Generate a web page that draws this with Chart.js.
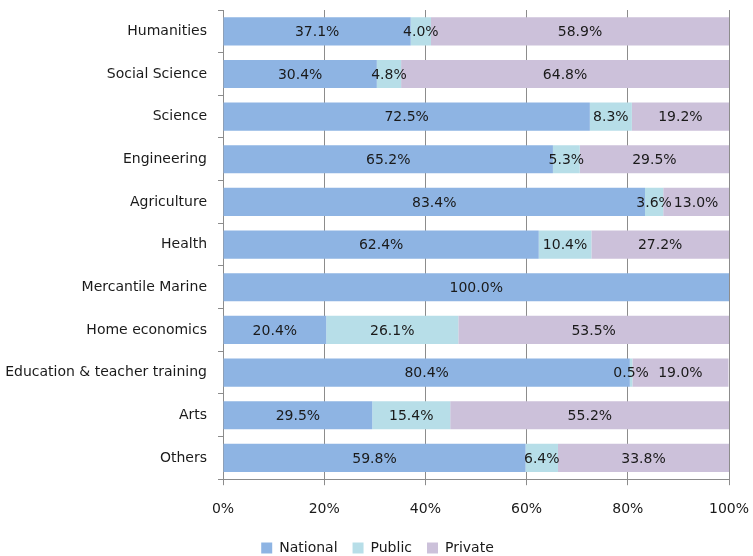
<!DOCTYPE html>
<html>
<head>
<meta charset="utf-8">
<script src="https://cdn.jsdelivr.net/npm/chart.js@4"></script>
<style>
  html, body { margin: 0; padding: 0; background: #fff; }
  #wrap { width: 753px; height: 556px; }
</style>
</head>
<body>
<div id="wrap"><canvas id="fieldChart" width="753" height="556"></canvas></div>
<script>
// Share of students by type of institution, per field
const categories = ['Humanities', 'Social Science', 'Science', 'Engineering', 'Agriculture', 'Health',
  'Mercantile Marine', 'Home economics', 'Education & teacher training', 'Arts', 'Others'];
const nationalVals = [37.1, 30.4, 72.5, 65.2, 83.4, 62.4, 100.0, 20.4, 80.4, 29.5, 59.8];
const publicVals   = [4.0, 4.8, 8.3, 5.3, 3.6, 10.4, 0, 26.1, 0.5, 15.4, 6.4];
const privateVals  = [58.9, 64.8, 19.2, 29.5, 13.0, 27.2, 0, 53.5, 19.0, 55.2, 33.8];
const xTicks = [0, 20, 40, 60, 80, 100];

const FONT = 'DejaVu Sans, Verdana, sans-serif';

// draws the % value in the middle of every segment
const segmentLabels = {
    id: 'segmentLabels',
    afterDatasetsDraw(chart) {
        const ctx = chart.ctx;
        ctx.save();
        ctx.font = '14px ' + FONT;
        ctx.fillStyle = '#1a1a1a';
        ctx.textAlign = 'center';
        ctx.textBaseline = 'middle';
        chart.data.datasets.forEach((ds, i) => {
            const meta = chart.getDatasetMeta(i);
            meta.data.forEach((bar, j) => {
                const v = ds.data[j];
                if (!v) return;
                ctx.fillText(v.toFixed(1) + '%', (bar.x + bar.base) / 2, bar.y + 1);
            });
        });
        ctx.restore();
    }
};

// nudge the legend a bit to the right, like the original
const legendShift = {
    id: 'legendShift',
    afterLayout(chart) {
        if (!chart.legend) return;
        chart.legend.left += 13;
        chart.legend.right += 13;
    }
};

const ctx = document.getElementById('fieldChart').getContext('2d');
new Chart(ctx, {
    type: 'bar',
    data: {
        labels: categories,
        datasets: [
            { label: 'National', data: nationalVals, backgroundColor: '#8eb4e3' },
            { label: 'Public', data: publicVals, backgroundColor: '#b7dee8' },
            { label: 'Private', data: privateVals, backgroundColor: '#ccc1da' }
        ]
    },
    options: {
        indexAxis: 'y',
        responsive: false,
        animation: false,
        categoryPercentage: 0.66,
        barPercentage: 1.0,
        layout: { padding: { top: 10, right: 24, bottom: -9, left: 0 } },
        plugins: {
            legend: {
                position: 'bottom',
                labels: {
                    font: { family: FONT, size: 14 },
                    color: '#1a1a1a',
                    boxWidth: 11,
                    boxHeight: 11,
                    padding: 15
                }
            },
            tooltip: { enabled: false }
        },
        scales: {
            x: {
                stacked: true,
                min: 0,
                max: 100,
                afterBuildTicks: (scale) => { scale.ticks = xTicks.map(v => ({ value: v })); },
                afterFit: (scale) => { scale.paddingRight = 0; scale.height -= 8; },
                ticks: {
                    callback: (v) => v + '%',
                    font: { family: FONT, size: 14 },
                    color: '#1a1a1a',
                    padding: 16
                },
                grid: { color: '#8c8c8c', tickLength: 6 },
                border: { color: '#8c8c8c' }
            },
            y: {
                stacked: true,
                afterFit: (scale) => {
                    scale.width = 223;
                    scale.paddingTop = 0;
                    scale.paddingBottom = 0;
                },
                ticks: {
                    font: { family: FONT, size: 14 },
                    color: '#1a1a1a',
                    padding: 11
                },
                grid: { drawOnChartArea: false, color: '#8c8c8c', tickLength: 5 },
                border: { color: '#8c8c8c' }
            }
        }
    },
    plugins: [segmentLabels, legendShift]
});
</script>
</body>
</html>
